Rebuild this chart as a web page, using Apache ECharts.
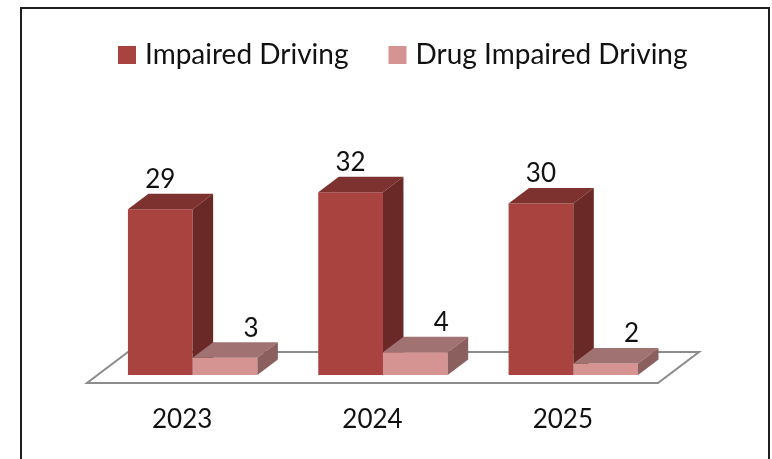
<!DOCTYPE html>
<html>
<head>
<meta charset="utf-8">
<script src="https://cdn.jsdelivr.net/npm/echarts@6/dist/echarts.min.js"></script>
<style>
  html, body { margin: 0; padding: 0; background: #fff; }
  #chart { width: 772px; height: 459px; }
</style>
</head>
<body>
<div id="chart"></div>
<script>
// data
var years = ['2023', '2024', '2025'];
var impaired = [29, 32, 30];
var drugImpaired = [3, 4, 2];
var seriesNames = ['Impaired Driving', 'Drug Impaired Driving'];

// face colours: front, top, side
var faces = [
    { front: '#A8433F', top: '#7E3230', side: '#6A2826' },
    { front: '#D59391', top: '#A07272', side: '#8A5F5E' }
];
var FONT = 'Lato';
var DEPTH = [41, -31]; // floor depth in px

function barItem(si) {
    return function(params, api) {
        var cat = api.value(0);
        var val = api.value(1);
        var bw = api.size([1, 0])[0];
        var base = api.coord([cat, 0]);
        var topPt = api.coord([cat, val]);
        var w = 0.34 * bw;
        var l = base[0] - 0.285 * bw + si * w;
        var b = base[1];
        var t = topPt[1];
        var dx = DEPTH[0] / 2, dy = DEPTH[1] / 2;
        var f = faces[si];
        var labelX = si === 0 ? l + w / 2 : l + w / 2 + 26;
        return {
            type: 'group',
            children: [
                { type: 'polygon', shape: { points: [[l, t], [l + w, t], [l + w, b], [l, b]] },
                  style: { fill: f.front } },
                { type: 'polygon', shape: { points: [[l, t], [l + w, t], [l + w + dx, t + dy], [l + dx, t + dy]] },
                  style: { fill: f.top } },
                { type: 'polygon', shape: { points: [[l + w, t], [l + w + dx, t + dy], [l + w + dx, b + dy], [l + w, b]] },
                  style: { fill: f.side } },
                { type: 'text', style: { text: String(val), x: labelX, y: t + dy - 14,
                    align: 'center', verticalAlign: 'middle', fill: '#111',
                    fontSize: 26, fontFamily: FONT } }
            ]
        };
    };
}

function floorItem(params, api) {
    var cs = params.coordSys;
    var yb = cs.y + cs.height;
    var x0 = cs.x, x1 = cs.x + cs.width;
    var fy = yb + 8;
    return {
        type: 'polygon',
        shape: { points: [[x0, fy], [x1, fy], [x1 + DEPTH[0], fy + DEPTH[1]], [x0 + DEPTH[0], fy + DEPTH[1]]] },
        style: { fill: '#fff', stroke: '#8c8c8c', lineWidth: 2 }
    };
}

var chart = echarts.init(document.getElementById('chart'));
chart.setOption({
    backgroundColor: '#fff',
    animation: false,
    graphic: [{
        type: 'rect',
        shape: { x: 21, y: 8, width: 748, height: 470 },
        style: { fill: 'none', stroke: '#1e1e1e', lineWidth: 2 },
        z: 100
    }],
    legend: {
        top: 36,
        left: 113,
        itemWidth: 18,
        itemHeight: 18,
        itemGap: 40,
        icon: 'rect',
        textStyle: { fontSize: 28, fontFamily: FONT, color: '#111', padding: [0, 0, 0, 4] },
        data: [
            { name: seriesNames[0], itemStyle: { color: faces[0].front } },
            { name: seriesNames[1], itemStyle: { color: faces[1].front } }
        ]
    },
    grid: { left: 87, right: 114, top: 175, bottom: 84 },
    xAxis: {
        type: 'category',
        data: years,
        axisLine: { show: false },
        axisTick: { show: false },
        axisLabel: { margin: 32, fontSize: 26, fontFamily: FONT, color: '#111' }
    },
    yAxis: {
        type: 'value',
        min: 0,
        max: 35,
        show: false
    },
    series: [
        { type: 'custom', name: 'floor', renderItem: floorItem, data: [[0, 0]], silent: true, z: 1 },
        { type: 'custom', name: seriesNames[0], renderItem: barItem(0), z: 2,
          itemStyle: { color: faces[0].front },
          data: impaired.map(function(v, i) { return [i, v]; }) },
        { type: 'custom', name: seriesNames[1], renderItem: barItem(1), z: 3,
          itemStyle: { color: faces[1].front },
          data: drugImpaired.map(function(v, i) { return [i, v]; }) }
    ]
});
</script>
</body>
</html>
